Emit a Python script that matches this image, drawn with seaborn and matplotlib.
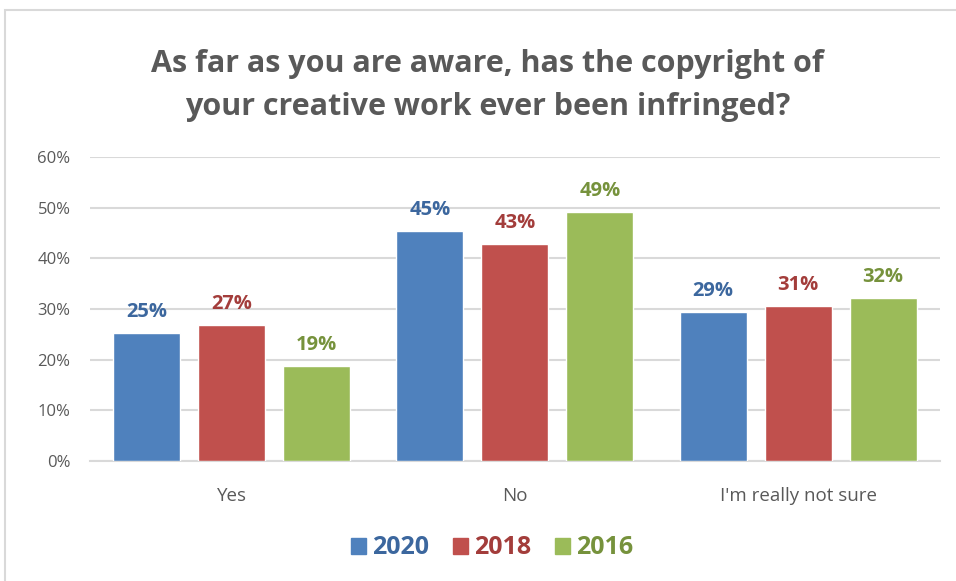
import matplotlib
matplotlib.use("Agg")
import matplotlib.pyplot as plt
from matplotlib.patches import Rectangle
import seaborn as sns
import pandas as pd

categories = ["Yes", "No", "I'm really not sure"]
years = ["2020", "2018", "2016"]
values_2020 = [25.3, 45.3, 29.4]
values_2018 = [26.8, 42.8, 30.6]
values_2016 = [18.7, 49.1, 32.2]

bar_colors = ["#4F81BD", "#C0504D", "#9BBB59"]
text_colors = ["#3C679E", "#A33D3B", "#76923C"]
grey = "#595959"

rows = []
for year, vals in zip(years, [values_2020, values_2018, values_2016]):
    for cat, v in zip(categories, vals):
        rows.append({"category": cat, "year": year, "value": v})
df = pd.DataFrame(rows)

sns.set_theme(style="white")
plt.rcParams["font.family"] = ["Open Sans", "DejaVu Sans"]

fig = plt.figure(figsize=(9.56, 5.81), dpi=100)
ax = fig.add_axes([0.0941, 0.2065, 0.889, 0.5233])

sns.barplot(data=df, x="category", y="value", hue="year", hue_order=years,
            order=categories, palette=bar_colors, width=0.9, gap=0.21,
            saturation=1, ax=ax, legend=False, zorder=3)

ax.set_ylim(0, 60)
ax.set_yticks(range(0, 61, 10))
ax.set_yticklabels([f"{t}%" for t in range(0, 61, 10)], color=grey, fontsize=12)
ax.tick_params(axis="x", colors=grey, labelsize=13.5, pad=19, length=0)
ax.tick_params(axis="y", length=0, pad=14)
ax.set_xlabel("")
ax.set_ylabel("")
ax.grid(axis="y", color="#D9D9D9", linewidth=1.5, zorder=0)
for s in ["top", "right", "left"]:
    ax.spines[s].set_visible(False)
ax.spines["bottom"].set_color("#D9D9D9")
ax.spines["bottom"].set_linewidth(1.5)

for cont, col in zip(ax.containers, text_colors):
    ax.bar_label(cont, labels=[f"{v:.0f}%" for v in cont.datavalues],
                 color=col, fontsize=14.5, fontweight="bold", padding=8)

fig.text(0.51, 0.853, "As far as you are aware, has the copyright of\nyour creative work ever been infringed?",
         ha="center", va="center", fontsize=22, fontweight="bold", color=grey,
         linespacing=1.55)

handles = [Rectangle((0, 0), 1, 1, color=c) for c in bar_colors]
leg = fig.legend(handles, years, loc="center", bbox_to_anchor=(0.515, 0.057), ncol=3,
                 frameon=False, handlelength=0.6, handleheight=0.6, handletextpad=0.25,
                 columnspacing=0.95, prop={"size": 18, "weight": "bold"})
for t, c in zip(leg.get_texts(), text_colors):
    t.set_color(c)

fig.patches.append(Rectangle((5 / 956, -0.1), 1.2, 1.1 - 10 / 581, transform=fig.transFigure,
                             fill=False, edgecolor="#D9D9D9", linewidth=1.5))

fig.savefig("out.png", dpi=100)
